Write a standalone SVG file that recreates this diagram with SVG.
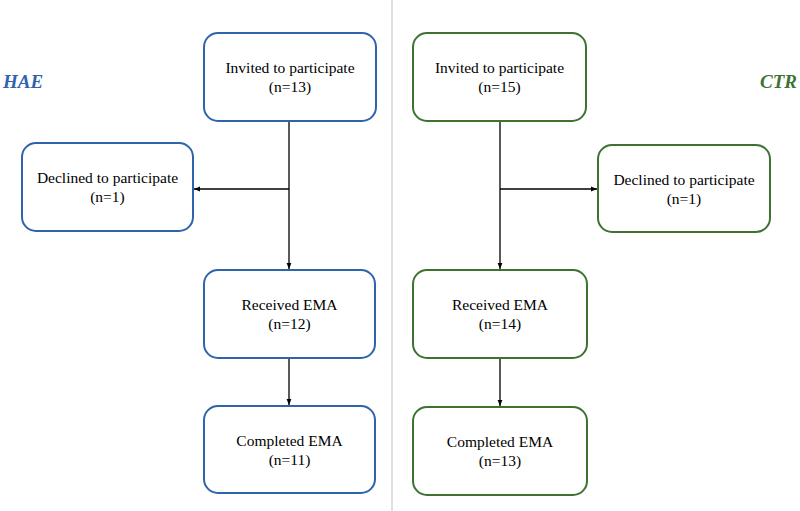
<svg xmlns="http://www.w3.org/2000/svg" width="800" height="511" viewBox="0 0 800 511">
<style>
.box{fill:#fff;stroke-width:2}
.hae{stroke:#2f64ad}
.ctr{stroke:#3d7232}
.t{font-family:"Liberation Serif",serif;font-size:15.5px;fill:#000;text-anchor:middle}
.lbl{font-family:"Liberation Serif",serif;font-size:19px;font-weight:bold;font-style:italic}
.c{stroke:#000;stroke-width:1.3;fill:none}
</style>
<defs>
<marker id="ah" viewBox="0 0 10 10" refX="10" refY="5" markerWidth="6" markerHeight="6" markerUnits="userSpaceOnUse" orient="auto">
<path d="M0,1 L10,5 L0,9 z" fill="#000"/>
</marker>
</defs>
<rect width="800" height="511" fill="#fff"/>
<line x1="392" y1="0" x2="392" y2="511" stroke="#d0d0d0" stroke-width="1.3"/>
<text class="lbl" x="3" y="88" fill="#2f64ad">HAE</text>
<text class="lbl" x="797" y="88" fill="#3d7232" text-anchor="end">CTR</text>
<g id="connectors">
<line class="c" x1="289" y1="121" x2="289" y2="269" marker-end="url(#ah)"/>
<line class="c" x1="289" y1="189" x2="194" y2="189" marker-end="url(#ah)"/>
<line class="c" x1="289" y1="358" x2="289" y2="405" marker-end="url(#ah)"/>
<line class="c" x1="500" y1="121" x2="500" y2="269" marker-end="url(#ah)"/>
<line class="c" x1="500" y1="189" x2="597" y2="189" marker-end="url(#ah)"/>
<line class="c" x1="500" y1="358" x2="500" y2="406" marker-end="url(#ah)"/>
</g>
<g id="hae-invited"><rect class="box hae" x="204" y="33" width="172" height="88" rx="14"/><text class="t" x="290" y="73">Invited to participate</text><text class="t" x="290" y="92">(n=13)</text></g>
<g id="hae-declined"><rect class="box hae" x="22" y="143" width="171" height="88" rx="14"/><text class="t" x="107.5" y="183">Declined to participate</text><text class="t" x="107.5" y="202">(n=1)</text></g>
<g id="hae-received"><rect class="box hae" x="204" y="270" width="171" height="88" rx="14"/><text class="t" x="289.5" y="310">Received EMA</text><text class="t" x="289.5" y="329">(n=12)</text></g>
<g id="hae-completed"><rect class="box hae" x="204" y="406" width="171" height="87" rx="14"/><text class="t" x="289.5" y="446">Completed EMA</text><text class="t" x="289.5" y="465">(n=11)</text></g>
<g id="ctr-invited"><rect class="box ctr" x="413" y="33" width="173" height="88" rx="14"/><text class="t" x="499.5" y="73">Invited to participate</text><text class="t" x="499.5" y="92">(n=15)</text></g>
<g id="ctr-declined"><rect class="box ctr" x="598" y="145" width="172" height="87" rx="14"/><text class="t" x="684" y="185">Declined to participate</text><text class="t" x="684" y="204">(n=1)</text></g>
<g id="ctr-received"><rect class="box ctr" x="413" y="270" width="174" height="88" rx="14"/><text class="t" x="500" y="310">Received EMA</text><text class="t" x="500" y="329">(n=14)</text></g>
<g id="ctr-completed"><rect class="box ctr" x="413" y="407" width="174" height="88" rx="14"/><text class="t" x="500" y="447">Completed EMA</text><text class="t" x="500" y="466">(n=13)</text></g>
</svg>
